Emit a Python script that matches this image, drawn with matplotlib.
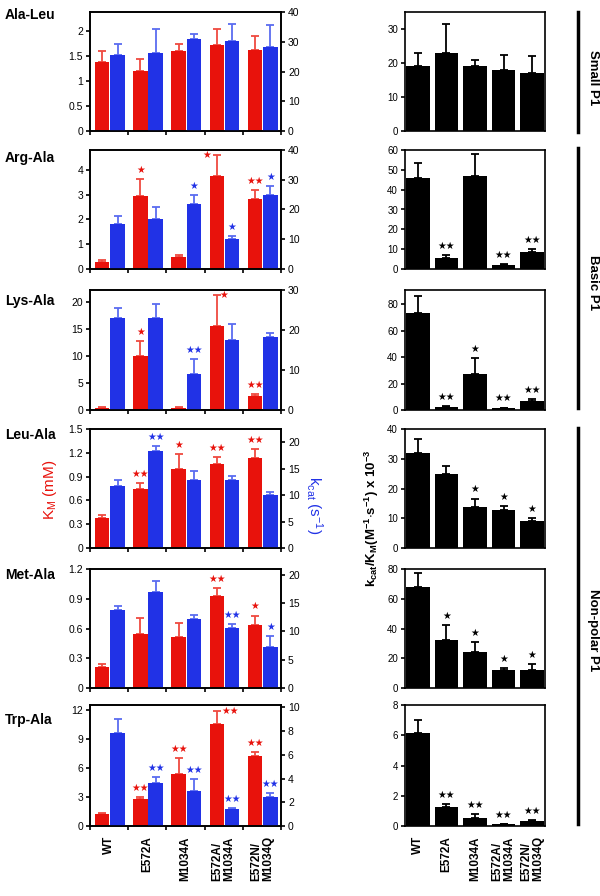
import matplotlib
matplotlib.use("Agg")
import matplotlib.pyplot as plt
from matplotlib.ticker import FuncFormatter

plt.rcParams['font.family'] = ['Liberation Sans', 'DejaVu Sans']
plt.rcParams['mathtext.default'] = 'regular'

mutants = ["WT", "E572A", "M1034A", "E572A/\nM1034A", "E572N/\nM1034Q"]
peptides = ["Ala-Leu", "Arg-Ala", "Lys-Ala", "Leu-Ala", "Met-Ala", "Trp-Ala"]

# K_M (mM), left axis, red
km = {
    "Ala-Leu": [1.39, 1.20, 1.60, 1.73, 1.62],
    "Arg-Ala": [0.30, 2.93, 0.50, 3.76, 2.82],
    "Lys-Ala": [0.40, 9.90, 0.40, 15.6, 2.65],
    "Leu-Ala": [0.38, 0.745, 0.99, 1.06, 1.13],
    "Met-Ala": [0.21, 0.54, 0.51, 0.93, 0.64],
    "Trp-Ala": [1.26, 2.74, 5.37, 10.5, 7.23],
}
km_err = {
    "Ala-Leu": [0.21, 0.24, 0.14, 0.31, 0.28],
    "Arg-Ala": [0.06, 0.70, 0.05, 0.84, 0.38],
    "Lys-Ala": [0.10, 2.90, 0.10, 5.70, 0.25],
    "Leu-Ala": [0.04, 0.075, 0.19, 0.09, 0.12],
    "Met-Ala": [0.035, 0.17, 0.15, 0.08, 0.09],
    "Trp-Ala": [0.04, 0.24, 1.63, 1.35, 0.42],
}
km_sig = {
    "Ala-Leu": ["", "", "", "", ""],
    "Arg-Ala": ["", "*", "", "*", "**"],
    "Lys-Ala": ["", "*", "", "*", "**"],
    "Leu-Ala": ["", "**", "*", "**", "**"],
    "Met-Ala": ["", "", "", "**", "*"],
    "Trp-Ala": ["", "**", "**", "**", "**"],
}
# k_cat (s^-1), right axis, blue
kcat = {
    "Ala-Leu": [25.5, 26.1, 30.8, 30.4, 28.3],
    "Arg-Ala": [15.0, 16.8, 21.8, 10.1, 24.9],
    "Lys-Ala": [23.1, 23.1, 9.0, 17.5, 18.2],
    "Leu-Ala": [11.7, 18.35, 12.95, 12.95, 10.1],
    "Met-Ala": [13.8, 16.9, 12.1, 10.6, 7.3],
    "Trp-Ala": [7.87, 3.64, 2.94, 1.43, 2.46],
}
kcat_err = {
    "Ala-Leu": [3.7, 8.2, 1.8, 5.6, 7.3],
    "Arg-Ala": [2.8, 3.9, 3.1, 1.0, 3.1],
    "Lys-Ala": [2.5, 3.4, 3.75, 4.0, 1.0],
    "Leu-Ala": [1.25, 0.95, 1.55, 0.75, 0.4],
    "Met-Ala": [0.7, 2.0, 0.8, 0.75, 1.8],
    "Trp-Ala": [1.13, 0.51, 0.98, 0.07, 0.34],
}
kcat_sig = {
    "Ala-Leu": ["", "", "", "", ""],
    "Arg-Ala": ["", "", "*", "*", "*"],
    "Lys-Ala": ["", "", "**", "", ""],
    "Leu-Ala": ["", "**", "", "", ""],
    "Met-Ala": ["", "", "", "**", "*"],
    "Trp-Ala": ["", "**", "**", "**", "**"],
}
# k_cat/K_M (M^-1 s^-1) x 10^-3, black
eff = {
    "Ala-Leu": [19.0, 23.0, 19.0, 18.0, 17.0],
    "Arg-Ala": [45.7, 5.4, 47.0, 2.0, 8.4],
    "Lys-Ala": [73.5, 2.3, 27.0, 1.5, 6.8],
    "Leu-Ala": [31.9, 24.8, 13.7, 12.9, 9.0],
    "Met-Ala": [68.0, 32.2, 24.3, 12.0, 12.0],
    "Trp-Ala": [6.15, 1.28, 0.52, 0.10, 0.30],
}
eff_err = {
    "Ala-Leu": [3.8, 8.5, 2.0, 4.3, 5.2],
    "Arg-Ala": [7.9, 1.8, 11.0, 0.5, 1.7],
    "Lys-Ala": [12.5, 0.5, 12.0, 0.3, 1.3],
    "Leu-Ala": [4.8, 2.9, 2.9, 1.1, 1.1],
    "Met-Ala": [9.0, 10.2, 6.7, 1.7, 3.8],
    "Trp-Ala": [0.85, 0.18, 0.26, 0.03, 0.08],
}
eff_sig = {
    "Ala-Leu": ["", "", "", "", ""],
    "Arg-Ala": ["", "**", "", "**", "**"],
    "Lys-Ala": ["", "**", "*", "**", "**"],
    "Leu-Ala": ["", "", "*", "*", "*"],
    "Met-Ala": ["", "*", "*", "*", "*"],
    "Trp-Ala": ["", "**", "**", "**", "**"],
}
groups = ["Small P1", "Basic P1", "Non-polar P1"]

# axis settings
left_ylim = {"Ala-Leu": 2.38, "Arg-Ala": 4.8, "Lys-Ala": 22.2, "Leu-Ala": 1.5, "Met-Ala": 1.2, "Trp-Ala": 12.5}
left_ticks = {"Ala-Leu": [0, 0.5, 1, 1.5, 2], "Arg-Ala": [0, 1, 2, 3, 4], "Lys-Ala": [0, 5, 10, 15, 20],
              "Leu-Ala": [0, 0.3, 0.6, 0.9, 1.2, 1.5], "Met-Ala": [0, 0.3, 0.6, 0.9, 1.2], "Trp-Ala": [0, 3, 6, 9, 12]}
right_ylim = {"Ala-Leu": 40, "Arg-Ala": 40, "Lys-Ala": 30, "Leu-Ala": 22.5, "Met-Ala": 21, "Trp-Ala": 10.2}
right_ticks = {"Ala-Leu": [0, 10, 20, 30, 40], "Arg-Ala": [0, 10, 20, 30, 40], "Lys-Ala": [0, 10, 20, 30],
               "Leu-Ala": [0, 5, 10, 15, 20], "Met-Ala": [0, 5, 10, 15, 20], "Trp-Ala": [0, 2, 4, 6, 8, 10]}
eff_ylim = {"Ala-Leu": 35, "Arg-Ala": 60, "Lys-Ala": 90.6, "Leu-Ala": 40, "Met-Ala": 80, "Trp-Ala": 8}
eff_ticks = {"Ala-Leu": [0, 10, 20, 30], "Arg-Ala": [0, 10, 20, 30, 40, 50, 60], "Lys-Ala": [0, 20, 40, 60, 80],
             "Leu-Ala": [0, 10, 20, 30, 40], "Met-Ala": [0, 20, 40, 60, 80], "Trp-Ala": [0, 2, 4, 6, 8]}

# star placed beside the cap: (peptide, index) -> x offset
side_stars = {("Arg-Ala", 3): -0.27, ("Lys-Ala", 3): 0.17, ("Trp-Ala", 3): 0.36}

rows_px = [(12, 131), (150, 269), (290, 410), (429, 548), (569, 688), (705, 826)]
title_px = [15, 158, 301, 435, 575, 720]

RED = "#e8120c"
BLUE = "#2132e6"
RED_E = "#ef4a40"
BLUE_E = "#5a6cf0"

W, H = 600, 896
fig = plt.figure(figsize=(W / 100, H / 100), dpi=100)
fmt = FuncFormatter(lambda v, p: "%g" % v)

def star_text(s):
    return "\u2605" * len(s)

for r, pep in enumerate(peptides):
    top, bot = rows_px[r]
    ax = fig.add_axes([90 / W, 1 - bot / H, 191 / W, (bot - top) / H])
    ax2 = ax.twinx()
    xr = [i + 0.32 for i in range(5)]
    xb = [i + 0.72 for i in range(5)]
    ax.bar(xr, km[pep], width=0.38, color=RED, zorder=2)
    ax.errorbar(xr, km[pep], yerr=[[0] * 5, km_err[pep]], fmt="none", ecolor=RED_E,
                elinewidth=1.3, capsize=3, capthick=1.3, zorder=1)
    ax2.bar(xb, kcat[pep], width=0.38, color=BLUE, zorder=2)
    ax2.errorbar(xb, kcat[pep], yerr=[[0] * 5, kcat_err[pep]], fmt="none", ecolor=BLUE_E,
                 elinewidth=1.3, capsize=3, capthick=1.3, zorder=1)
    ax.set_xlim(0, 5)
    ax.set_ylim(0, left_ylim[pep])
    ax2.set_ylim(0, right_ylim[pep])
    ax.set_yticks(left_ticks[pep])
    ax2.set_yticks(right_ticks[pep])
    ax.yaxis.set_major_formatter(fmt)
    ax2.yaxis.set_major_formatter(fmt)
    ax.set_xticks(range(6))
    ax.set_xticklabels([])
    ax.tick_params(axis="both", direction="out", length=3, width=1.2, labelsize=7.5, pad=2)
    ax2.tick_params(axis="y", direction="out", length=3, width=1.2, labelsize=7.5, pad=2)
    for a in (ax, ax2):
        for sp in a.spines.values():
            sp.set_linewidth(1.2)
    # stars
    for i in range(5):
        for a, xs, vals, errs, sig, col, yl in (
            (ax, xr, km[pep], km_err[pep], km_sig[pep], RED, left_ylim[pep]),
            (ax2, xb, kcat[pep], kcat_err[pep], kcat_sig[pep], BLUE, right_ylim[pep]),
        ):
            if not sig[i]:
                continue
            ytop = vals[i] + errs[i]
            x = xs[i]
            if a is ax and (pep, i) in side_stars:
                a.text(x + side_stars[(pep, i)], ytop, star_text(sig[i]), color=col, fontsize=7,
                       ha="center", va="center", family="DejaVu Sans", clip_on=False)
            else:
                a.text(x, ytop + yl * 0.035, star_text(sig[i]), color=col, fontsize=7,
                       ha="center", va="bottom", family="DejaVu Sans", clip_on=False)
    if r == 5:
        for i, lab in enumerate(mutants):
            fig.text((90 + 191 * (i + 0.5) / 5) / W, 1 - 836 / H, lab, rotation=90, ha="center",
                     va="top", fontsize=8.5, fontweight="bold", multialignment="left", linespacing=1.0)
    fig.text(5 / W, 1 - title_px[r] / H, pep, fontsize=10, fontweight="bold", ha="left", va="center")

    # right column
    axr = fig.add_axes([405 / W, 1 - bot / H, 140 / W, (bot - top) / H])
    xs = list(range(5))
    axr.bar(xs, eff[pep], width=0.83, color="black", zorder=2)
    axr.errorbar(xs, eff[pep], yerr=[[0] * 5, eff_err[pep]], fmt="none", ecolor="black",
                 elinewidth=1.3, capsize=3, capthick=1.3, zorder=1)
    axr.set_xlim(-0.45, 4.45)
    axr.set_ylim(0, eff_ylim[pep])
    axr.set_yticks(eff_ticks[pep])
    axr.yaxis.set_major_formatter(fmt)
    axr.set_xticks([])
    axr.tick_params(axis="y", direction="out", length=3, width=1.2, labelsize=7, pad=2)
    for sp in axr.spines.values():
        sp.set_linewidth(1.2)
    for i in range(5):
        if eff_sig[pep][i]:
            axr.text(i, eff[pep][i] + eff_err[pep][i] + eff_ylim[pep] * 0.035, star_text(eff_sig[pep][i]),
                     color="black", fontsize=7, ha="center", va="bottom", family="DejaVu Sans", clip_on=False)
    if r == 5:
        for i, lab in enumerate(mutants):
            fig.text((405 + 140 * (i + 0.45) / 4.9) / W, 1 - 836 / H, lab, rotation=90, ha="center",
                     va="top", fontsize=8.5, fontweight="bold", multialignment="left", linespacing=1.0)

# axis labels
fig.text(50 / W, 1 - 490 / H, r"K$_M$ (mM)", color=RED, rotation=90, fontsize=11, ha="center", va="center")
fig.text(314 / W, 1 - 505 / H, r"k$_{cat}$ (s$^{-1}$)", color=BLUE, rotation=270, fontsize=11,
         ha="center", va="center")
fig.text(372 / W, 1 - 518 / H, r"k$_{cat}$/K$_M$(M$^{-1}$$\cdot$s$^{-1}$) x 10$^{-3}$", rotation=90,
         fontsize=9.5, fontweight="bold", ha="center", va="center")

# group brackets
bracket_px = [(12, 132), (148, 408), (428, 824)]
label_px = [78, 283, 630]
for (y0, y1), yl, g in zip(bracket_px, label_px, groups):
    fig.add_artist(plt.Line2D([578 / W, 578 / W], [1 - y0 / H, 1 - y1 / H], color="black", lw=2.5))
    fig.text(593 / W, 1 - yl / H, g, rotation=270, fontsize=9.5, fontweight="bold", ha="center", va="center")

fig.savefig("out.png", dpi=100)
